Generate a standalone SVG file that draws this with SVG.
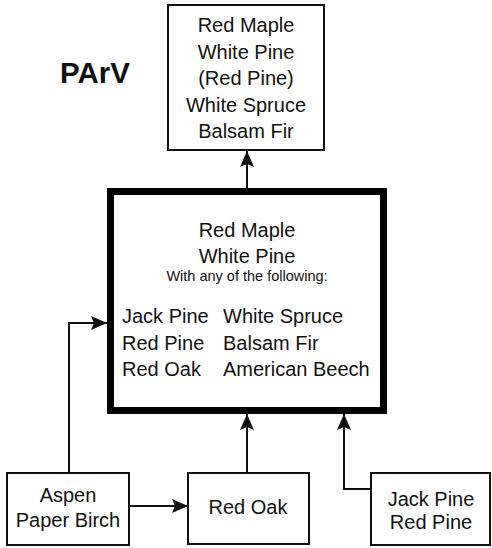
<svg xmlns="http://www.w3.org/2000/svg" width="492" height="548" viewBox="0 0 492 548">
<style>
.box{fill:#fff;stroke:#111;stroke-width:2}
.thick{fill:#fff;stroke:#000;stroke-width:7}
.t{font-family:"Liberation Sans",Arial,sans-serif;font-size:20px;fill:#111}
.c{text-anchor:middle}
.s{font-size:14.5px}
.conn{fill:none;stroke:#111;stroke-width:2}
</style>
<defs>
<marker id="ah" markerUnits="userSpaceOnUse" viewBox="0 0 16 14" refX="16" refY="7" markerWidth="16" markerHeight="14" orient="auto">
<path d="M0,0 L16,7 L0,14 L3,7 Z" fill="#111"/>
</marker>
</defs>
<text x="60" y="83" font-family="Liberation Sans,Arial,sans-serif" font-size="29.5" font-weight="bold" fill="#111">PArV</text>
<g id="connectors">
<path class="conn" d="M247,188 V151" marker-end="url(#ah)"/>
<path class="conn" d="M69,473 V323 H107" marker-end="url(#ah)"/>
<path class="conn" d="M129,506 H188" marker-end="url(#ah)"/>
<path class="conn" d="M247,473 V414" marker-end="url(#ah)"/>
<path class="conn" d="M371,489 H344 V414" marker-end="url(#ah)"/>
</g>
<g id="top">
<rect class="box" x="168" y="5" width="156" height="145"/>
<text class="t c" x="246" y="32">Red Maple</text>
<text class="t c" x="246" y="58.5">White Pine</text>
<text class="t c" x="246" y="85">(Red Pine)</text>
<text class="t c" x="246" y="111.5">White Spruce</text>
<text class="t c" x="246" y="138">Balsam Fir</text>
</g>
<g id="main">
<rect class="thick" x="110.5" y="191.5" width="273" height="219"/>
<text class="t c" x="247" y="237">Red Maple</text>
<text class="t c" x="247" y="263">White Pine</text>
<text class="t c s" x="247" y="281">With any of the following:</text>
<text class="t" x="122" y="323">Jack Pine</text>
<text class="t" x="223" y="323">White Spruce</text>
<text class="t" x="122" y="350">Red Pine</text>
<text class="t" x="223" y="350">Balsam Fir</text>
<text class="t" x="122" y="376">Red Oak</text>
<text class="t" x="223" y="376">American Beech</text>
</g>
<g id="aspen">
<rect class="box" x="7" y="473" width="122" height="72"/>
<text class="t c" x="68" y="502">Aspen</text>
<text class="t c" x="68" y="527">Paper Birch</text>
</g>
<g id="redoak">
<rect class="box" x="188" y="473" width="121" height="71"/>
<text class="t c" x="248" y="514">Red Oak</text>
</g>
<g id="jackpine">
<rect class="box" x="371" y="473" width="119" height="72"/>
<text class="t c" x="431" y="506">Jack Pine</text>
<text class="t c" x="431" y="529">Red Pine</text>
</g>
</svg>
